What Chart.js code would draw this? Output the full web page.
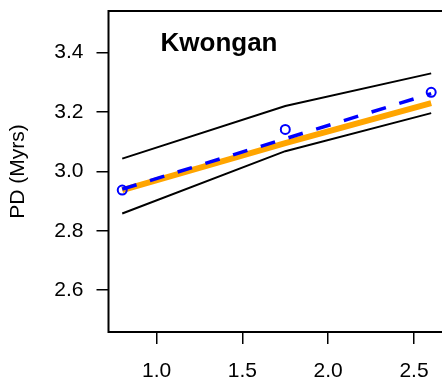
<!DOCTYPE html>
<html>
<head>
<meta charset="utf-8">
<script src="https://cdn.jsdelivr.net/npm/chart.js@4/dist/chart.umd.min.js"></script>
<style>
  body { margin: 0; background: #fff; }
  canvas { display: block; }
</style>
</head>
<body>
<canvas id="plot" width="442" height="381"></canvas>
<script>
// values
const sites = [0.8, 1.75, 2.6];
const upperCI = [3.043, 3.22, 3.33];
const lowerCI = [2.858, 3.068, 3.196];
const fitted = [2.937, 3.095, 3.23];
const observed = [2.937, 3.141, 3.266];
const trendX = [0.8, 2.6];
const trendY = [2.94, 3.262];
const xTicks = [1.0, 1.5, 2.0, 2.5];
const yTicks = [2.6, 2.8, 3.0, 3.2, 3.4];
const panelTitle = 'Kwongan';
const yTitle = 'PD (Myrs)';

const FONT = 'Liberation Sans, Arial, Helvetica, sans-serif';

const pts = (xs, ys) => xs.map((x, i) => ({ x: x, y: ys[i] }));

// R-style box (the right side runs off the picture) and panel label
const frame = {
  id: 'frame',
  afterDraw(chart) {
    const c = chart.ctx, a = chart.chartArea;
    c.save();
    c.strokeStyle = '#000';
    c.lineWidth = 2;
    c.beginPath();
    c.moveTo(chart.width + 2, a.top);
    c.lineTo(a.left, a.top);
    c.lineTo(a.left, a.bottom);
    c.lineTo(chart.width + 2, a.bottom);
    c.stroke();
    c.font = 'bold 26px ' + FONT;
    c.fillStyle = '#000';
    c.textAlign = 'center';
    c.textBaseline = 'alphabetic';
    c.fillText(panelTitle, 219, 51);
    c.restore();
  }
};

const ctx = document.getElementById('plot').getContext('2d');
const chart = new Chart(ctx, {
  type: 'scatter',
  data: {
    datasets: [
      {
        label: 'observed',
        data: pts(sites, observed),
        showLine: false,
        pointStyle: 'circle',
        pointRadius: 4.5,
        pointBorderWidth: 2,
        pointBorderColor: '#0000ff',
        pointBackgroundColor: 'rgba(0,0,0,0)',
        order: 0
      },
      {
        label: 'trend',
        data: pts(trendX, trendY),
        showLine: true,
        borderColor: '#0000ff',
        borderWidth: 3.5,
        borderDash: [15, 14],
        pointRadius: 0,
        order: 1
      },
      {
        label: 'fitted',
        data: pts(sites, fitted),
        showLine: true,
        borderColor: '#ffa500',
        borderWidth: 6,
        pointRadius: 0,
        order: 2
      },
      {
        label: 'upper',
        data: pts(sites, upperCI),
        showLine: true,
        borderColor: '#000',
        borderWidth: 2,
        pointRadius: 0,
        order: 3
      },
      {
        label: 'lower',
        data: pts(sites, lowerCI),
        showLine: true,
        borderColor: '#000',
        borderWidth: 2,
        pointRadius: 0,
        order: 3
      }
    ]
  },
  options: {
    responsive: false,
    animation: false,
    layout: { autoPadding: false, padding: { top: 11, left: 0, right: 0, bottom: 0 } },
    plugins: {
      legend: { display: false },
      tooltip: { enabled: false }
    },
    scales: {
      x: {
        type: 'linear',
        min: 0.72,
        max: 2.663,
        afterBuildTicks: s => { s.ticks = xTicks.map(v => ({ value: v })); },
        afterFit: s => { s.height = 49; s.paddingLeft = 0; s.paddingRight = 0; },
        border: { display: false },
        grid: { drawOnChartArea: false, drawTicks: true, tickLength: 12, color: '#000', lineWidth: 1.5 },
        ticks: {
          padding: 15,
          color: '#000',
          font: { family: FONT, size: 21 },
          maxRotation: 0,
          callback: v => v.toFixed(1)
        }
      },
      y: {
        type: 'linear',
        min: 2.459,
        max: 3.54,
        afterBuildTicks: s => { s.ticks = yTicks.map(v => ({ value: v })); },
        afterFit: s => { s.width = 108.5; s.paddingTop = 0; s.paddingBottom = 0; },
        border: { display: false },
        grid: { drawOnChartArea: false, drawTicks: true, tickLength: 12, color: '#000', lineWidth: 1.5 },
        ticks: {
          padding: 13,
          color: '#000',
          font: { family: FONT, size: 21 },
          callback: v => v.toFixed(1)
        },
        title: {
          display: true,
          text: yTitle,
          color: '#000',
          font: { family: FONT, size: 21 },
          padding: { top: 6, bottom: 0 }
        }
      }
    }
  },
  plugins: [frame]
});
</script>
</body>
</html>
